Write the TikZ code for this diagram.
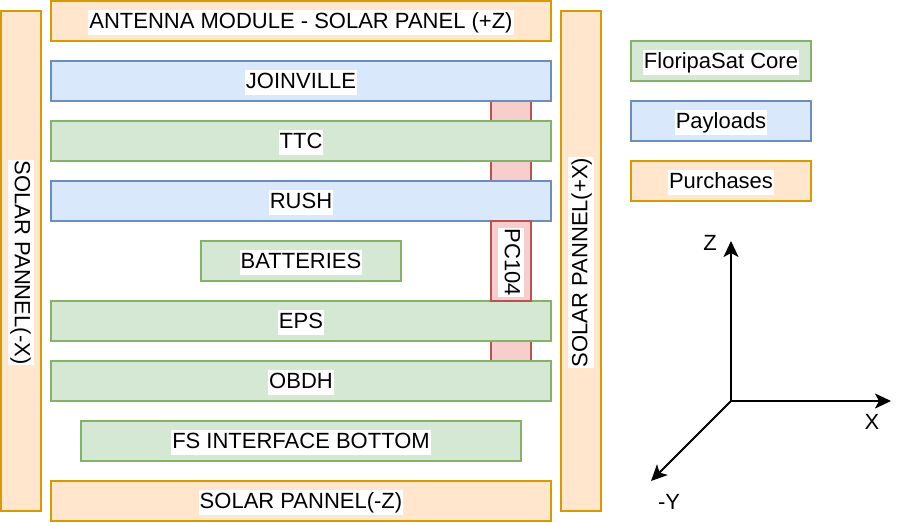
\documentclass[tikz,border=0pt]{standalone}
\usepackage{fontspec}
\setmainfont{Liberation Sans}
\usetikzlibrary{arrows.meta}
\definecolor{gfill}{HTML}{D5E8D4}\definecolor{gline}{HTML}{82B366}
\definecolor{bfill}{HTML}{DAE8FC}\definecolor{bline}{HTML}{6C8EBF}
\definecolor{ofill}{HTML}{FFE6CC}\definecolor{oline}{HTML}{D79B00}
\definecolor{rfill}{HTML}{F8CECC}\definecolor{rline}{HTML}{B85450}
\begin{document}
\begin{tikzpicture}[x=1pt,y=-1pt,
  box/.style={draw, line width=2pt, inner sep=0pt, outer sep=0pt},
  core/.style={box, fill=gfill, draw=gline},
  pay/.style={box, fill=bfill, draw=bline},
  purch/.style={box, fill=ofill, draw=oline},
  pcb/.style={box, fill=rfill, draw=rline},
  wide/.style={minimum width=500pt, minimum height=40pt},
  txt/.style={fill=white, inner xsep=1pt, inner ysep=0pt, text height=19pt, text depth=6.5pt, font=\fontsize{22}{26}\selectfont},
  htxt/.style={txt, yshift=-1.5pt},
  axis/.style={line width=2pt, -{Stealth[length=16pt,width=15pt,inset=4pt]}},
  axlbl/.style={inner sep=0pt, font=\fontsize{22}{26}\selectfont}]
\useasboundingbox (0,0) rectangle (912,522);

% PC104 strip behind the boards
\fill[rfill] (491,101) rectangle (531,361);
\draw[rline, line width=2pt] (491,101) -- (491,361) (531,101) -- (531,361);

% side panels
\node[purch, minimum width=40pt, minimum height=500pt] (lp) at (21,261) {};
\node[txt, rotate=-90, xshift=1.5pt] (lpt) at (lp.center) {SOLAR PANNEL(-X)};
\node[purch, minimum width=40pt, minimum height=500pt] (rp) at (581,261) {};
\node[txt, rotate=90, xshift=-1.5pt] (rpt) at (rp.center) {SOLAR PANNEL(+X)};

% stack
\node[purch, wide] (ant) at (301,21) {};
\node[htxt] (antt) at (ant.center) {ANTENNA MODULE - SOLAR PANEL (+Z)};
\node[pay, wide] (jv) at (301,81) {};
\node[htxt] (jvt) at (jv.center) {JOINVILLE};
\node[core, wide] (ttc) at (301,141) {};
\node[htxt] (ttct) at (ttc.center) {TTC};
\node[pay, wide] (rush) at (301,201) {};
\node[htxt] (rusht) at (rush.center) {RUSH};
\node[core, minimum width=200pt, minimum height=40pt] (bat) at (301,261) {};
\node[htxt] (batt) at (bat.center) {BATTERIES};
\node[core, wide] (eps) at (301,321) {};
\node[htxt] (epst) at (eps.center) {EPS};
\node[core, wide] (obdh) at (301,381) {};
\node[htxt] (obdht) at (obdh.center) {OBDH};
\node[core, minimum width=440pt, minimum height=40pt] (fs) at (301,441) {};
\node[htxt] (fst) at (fs.center) {FS INTERFACE BOTTOM};
\node[purch, wide] (sz) at (301,501) {};
\node[htxt] (szt) at (sz.center) {SOLAR PANNEL(-Z)};

% PC104 labelled block
\node[pcb, minimum width=40pt, minimum height=80pt] (pc) at (511,261) {};
\node[txt, rotate=-90, xshift=1.5pt] (pct) at (pc.center) {PC104};

% legend
\node[core, minimum width=180pt, minimum height=40pt] (lg1) at (721,61) {};
\node[htxt] (lg1t) at (lg1.center) {FloripaSat Core};
\node[pay, minimum width=180pt, minimum height=40pt] (lg2) at (721,121) {};
\node[htxt] (lg2t) at (lg2.center) {Payloads};
\node[purch, minimum width=180pt, minimum height=40pt] (lg3) at (721,181) {};
\node[htxt] (lg3t) at (lg3.center) {Purchases};

% axes
\coordinate (o) at (731,401);
\coordinate (zend) at (731,241);
\coordinate (xend) at (891,401);
\coordinate (yend) at (651,481);
\draw[axis] (o) -- (zend);
\draw[axis] (o) -- (xend);
\draw[axis] (o) -- (yend);
\node[axlbl] (zl) at (710,243) {Z};
\node[axlbl] (xl) at (872,422) {X};
\node[axlbl] (yl) at (669,502) {-Y};
\end{tikzpicture}
\end{document}
